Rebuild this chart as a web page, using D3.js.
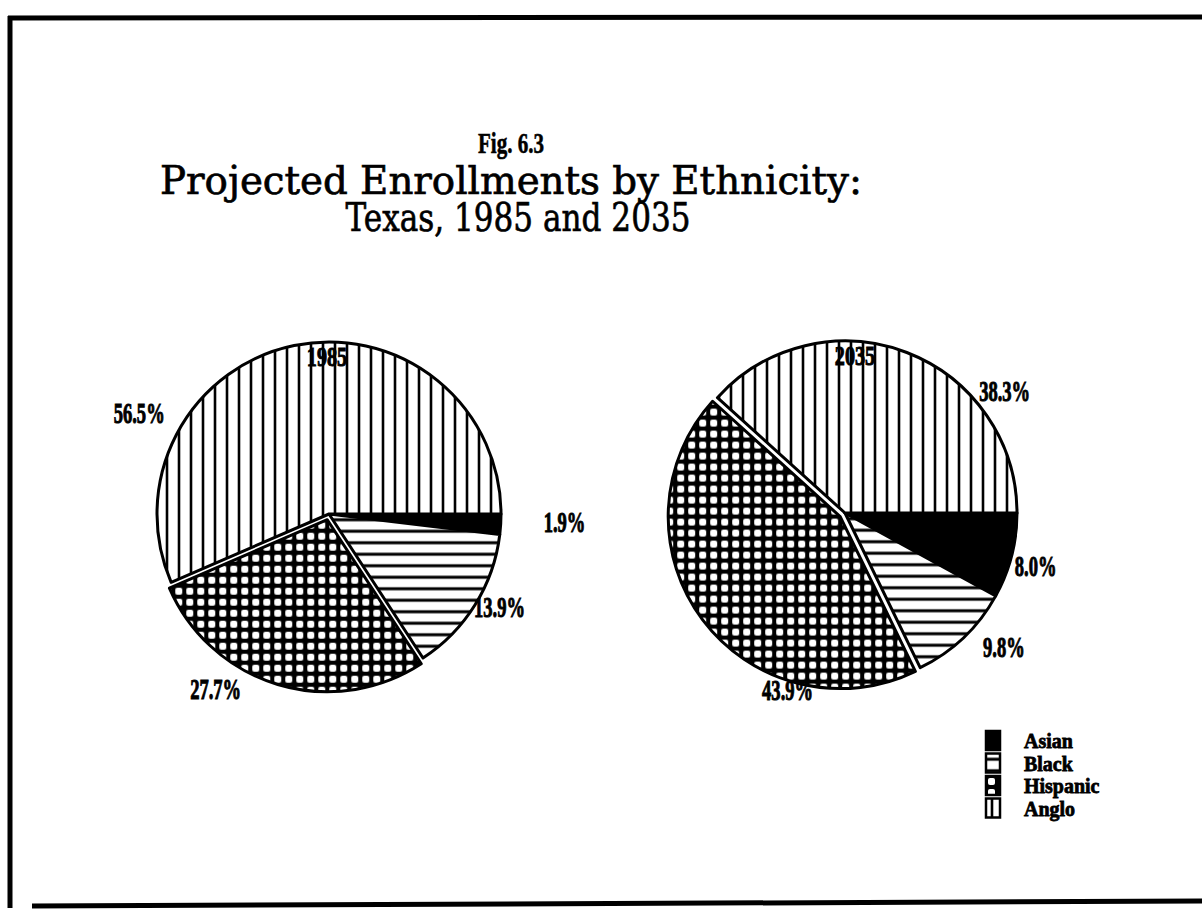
<!DOCTYPE html>
<html>
<head>
<meta charset="utf-8">
<script src="https://cdn.jsdelivr.net/npm/d3@7"></script>
<style>
  html, body { margin: 0; padding: 0; background: #fff; }
  svg { display: block; }
</style>
</head>
<body>
<svg id="chart" width="1202" height="917"></svg>
<script>
// ---- data ----
const categories = ["Asian", "Black", "Hispanic", "Anglo"];
const years = ["1985", "2035"];
const values1985 = [1.9, 13.9, 27.7, 56.5];
const values2035 = [8.0, 9.8, 43.9, 38.3];
const figLabel = "Fig. 6.3";
const titleLines = ["Projected Enrollments by Ethnicity:", "Texas, 1985 and 2035"];

// ---- layout ----
const W = 1202, H = 917;
const radius = 172;
const pieCenters = [[329, 514], [845, 513]];
const explodeCategory = "Hispanic";
const explodeDist = 6;
// label placement per slice: [angle in degrees from 3 o'clock clockwise, distance as fraction of radius]
const labelPolar = [
  [[1.9, 1.37], [28.7, 1.13], [123, 1.21], [208, 1.25]],
  [[15.5, 1.15], [40.2, 1.21], [108, 1.08], [-37.5, 1.17]]
];
const patternIds = { Asian: null, Black: "hlines", Hispanic: "grid", Anglo: "vlines" };

const svg = d3.select("#chart");
const defs = svg.append("defs");

// fill patterns
const pv = defs.append("pattern").attr("id", "vlines").attr("patternUnits", "userSpaceOnUse")
  .attr("width", 12).attr("height", 12);
pv.append("rect").attr("width", 12).attr("height", 12).attr("fill", "#fff");
pv.append("line").attr("x1", 6).attr("x2", 6).attr("y1", 0).attr("y2", 12)
  .attr("stroke", "#000").attr("stroke-width", 2.6);

const ph = defs.append("pattern").attr("id", "hlines").attr("patternUnits", "userSpaceOnUse")
  .attr("width", 12).attr("height", 11.5);
ph.append("rect").attr("width", 12).attr("height", 11.5).attr("fill", "#fff");
ph.append("line").attr("x1", 0).attr("x2", 12).attr("y1", 5.75).attr("y2", 5.75)
  .attr("stroke", "#000").attr("stroke-width", 3);

const pg = defs.append("pattern").attr("id", "grid").attr("patternUnits", "userSpaceOnUse")
  .attr("width", 11).attr("height", 11);
pg.append("rect").attr("width", 11).attr("height", 11).attr("fill", "#000");
pg.append("rect").attr("x", 2).attr("y", 2).attr("width", 7).attr("height", 7)
  .attr("rx", 2).attr("fill", "#fff");

function fillFor(cat) {
  return patternIds[cat] ? `url(#${patternIds[cat]})` : "#000";
}

// frame
const frame = svg.append("g").attr("stroke", "#000").attr("fill", "none");
frame.append("line").attr("x1", 8).attr("x2", W).attr("y1", 18).attr("y2", 17).attr("stroke-width", 5);
frame.append("line").attr("x1", 10).attr("x2", 10).attr("y1", 16).attr("y2", 908).attr("stroke-width", 5);
frame.append("line").attr("x1", 32).attr("x2", W).attr("y1", 906).attr("y2", 901).attr("stroke-width", 5);

// title
const titleFont = "'DejaVu Serif', serif";
svg.append("text").attr("x", 511).attr("y", 153)
  .attr("text-anchor", "middle").attr("font-family", "'Liberation Serif', serif")
  .attr("font-weight", "bold").attr("font-size", 30)
  .attr("stroke", "#000").attr("stroke-width", 0.6)
  .attr("textLength", 66).attr("lengthAdjust", "spacingAndGlyphs")
  .text(figLabel);
svg.append("text").attr("x", 511).attr("y", 194)
  .attr("text-anchor", "middle").attr("font-family", titleFont)
  .attr("font-size", 40).attr("stroke", "#000").attr("stroke-width", 0.7)
  .attr("textLength", 702).attr("lengthAdjust", "spacingAndGlyphs")
  .text(titleLines[0]);
svg.append("text").attr("x", 518).attr("y", 231)
  .attr("text-anchor", "middle").attr("font-family", titleFont)
  .attr("font-size", 40).attr("stroke", "#000").attr("stroke-width", 0.7)
  .attr("textLength", 345).attr("lengthAdjust", "spacingAndGlyphs")
  .text(titleLines[1]);

// pies
const pie = d3.pie().sort(null).value(d => d.value)
  .startAngle(Math.PI / 2).endAngle(Math.PI / 2 + 2 * Math.PI);
const arc = d3.arc().innerRadius(0).outerRadius(radius);

const labelFont = "'Liberation Serif', serif";
const squeeze = 0.64;

function condensed(sel, factor) {
  sel.each(function () {
    const w = this.getComputedTextLength();
    d3.select(this).attr("textLength", w * factor).attr("lengthAdjust", "spacingAndGlyphs");
  });
}

[values1985, values2035].forEach((vals, i) => {
  const [cx, cy] = pieCenters[i];
  const data = categories.map((c, k) => ({ cat: c, value: vals[k] }));
  const arcs = pie(data);
  const g = svg.append("g").attr("transform", `translate(${cx},${cy})`);

  g.selectAll("path").data(arcs).join("path")
    .attr("transform", d => {
      if (d.data.cat !== explodeCategory) return null;
      const mid = (d.startAngle + d.endAngle) / 2;
      return `translate(${Math.sin(mid) * explodeDist},${-Math.cos(mid) * explodeDist})`;
    })
    .attr("d", arc)
    .attr("fill", d => fillFor(d.data.cat))
    .attr("stroke", "#000").attr("stroke-width", 3).attr("stroke-linejoin", "round");

  // percentage labels
  const lbl = g.selectAll("text.pct").data(arcs).join("text").attr("class", "pct")
    .attr("x", (d, k) => Math.cos(labelPolar[i][k][0] * Math.PI / 180) * radius * labelPolar[i][k][1])
    .attr("y", (d, k) => Math.sin(labelPolar[i][k][0] * Math.PI / 180) * radius * labelPolar[i][k][1])
    .attr("text-anchor", "middle").attr("dominant-baseline", "central")
    .attr("font-family", labelFont).attr("font-weight", "bold").attr("font-size", 29)
    .attr("stroke", "#000").attr("stroke-width", 1)
    .text(d => d.data.value.toFixed(1) + "%");
  condensed(lbl, squeeze);

  // year label
  const yl = g.append("text").attr("x", i === 0 ? -2 : 10).attr("y", -radius + 14)
    .attr("text-anchor", "middle").attr("dominant-baseline", "central")
    .attr("font-family", labelFont).attr("font-weight", "bold").attr("font-size", 28)
    .attr("stroke", "#000").attr("stroke-width", 1)
    .text(years[i]);
  condensed(yl, 0.72);
});

// legend
const legend = svg.append("g").attr("transform", "translate(986,731)");
const rowH = 22.5;
const items = legend.selectAll("g").data(categories).join("g")
  .attr("transform", (d, k) => `translate(0,${k * rowH})`);
items.append("rect").attr("x", 0).attr("y", 0).attr("width", 14).attr("height", 19)
  .attr("fill", d => fillFor(d)).attr("stroke", "#000").attr("stroke-width", 2.5);
const lt = items.append("text").attr("x", 38).attr("y", 17)
  .attr("font-family", labelFont).attr("font-weight", "bold").attr("font-size", 21)
  .attr("stroke", "#000").attr("stroke-width", 0.8)
  .text(d => d);
condensed(lt, 0.95);
</script>
</body>
</html>
